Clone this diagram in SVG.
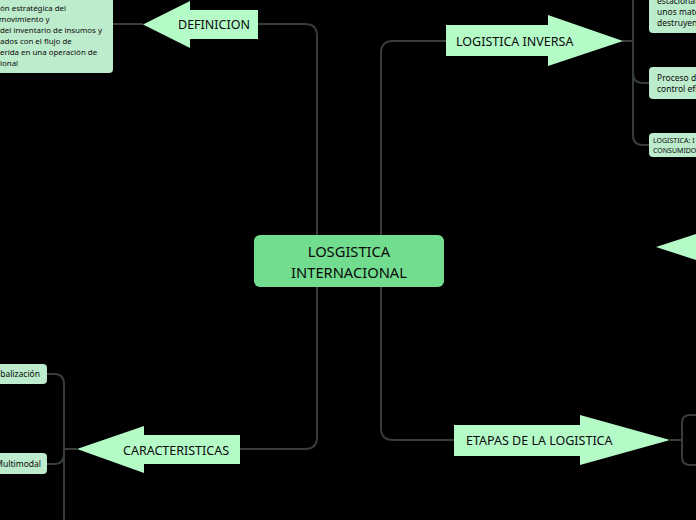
<svg xmlns="http://www.w3.org/2000/svg" width="696" height="520" viewBox="0 0 696 520">
<style>
.conn{fill:none;stroke:#373e37;stroke-width:2}
.arrow{fill:#b4fbc8}
.box{fill:#bdeccd}
.main{fill:#73dd8f}
.t{font-family:"Noto Sans","Open Sans","DejaVu Sans",sans-serif;fill:#0a0a0a}
.lbl{font-size:12.5px}
.c{font-size:14.7px;text-anchor:middle}
.s{font-size:8.5px}
.d{font-size:7.9px}
.xs{font-size:7px}
</style>
<rect width="696" height="520" fill="#000"/>
<g id="connectors">
<path class="conn" d="M258,24 H305 Q317,24 317,36 V437 Q317,449 305,449 H240"/>
<path class="conn" d="M446,41 H393 Q381,41 381,53 V428 Q381,440 393,440 H454"/>
<path class="conn" d="M143,24 H113"/>
<path class="conn" d="M622,41 H633 M633,-5 V135 Q633,145 643,145 H649 M633,73 Q633,83 643,83 H649"/>
<path class="conn" d="M77,449 H64 M47,374 H54 Q64,374 64,384 V525 M64,454 Q64,464 54,464 H47"/>
<path class="conn" d="M670,440 H682 M700,415 H690 Q682,415 682,423 V457 Q682,465 690,465 H700"/>
</g>
<g id="central">
<rect class="main" x="254" y="235" width="190" height="52" rx="6"/>
<text class="t c" x="349" y="256.5">LOSGISTICA</text>
<text class="t c" x="349" y="277.5">INTERNACIONAL</text>
</g>
<g id="definicion">
<polygon class="arrow" points="258,10 190,10 190,1 143,24.5 190,48 190,39 258,39"/>
<text class="t lbl" x="178" y="29">DEFINICION</text>
</g>
<g id="definicion-texto">
<rect class="box" x="-10" y="-10" width="123" height="83" rx="4"/>
<text class="t d" x="0" y="11">ón estratégica del</text>
<text class="t d" x="-1" y="21.5">movimiento y</text>
<text class="t d" x="0" y="32.5">del inventario de insumos y</text>
<text class="t d" x="0" y="43.5">ados con el flujo de</text>
<text class="t d" x="0" y="55">erida en una operación de</text>
<text class="t d" x="0" y="65.5">ional</text>
</g>
<g id="logistica-inversa">
<polygon class="arrow" points="446,25 548,25 548,15 623,41 548,66 548,56 446,56"/>
<text class="t lbl" x="456" y="45.5">LOGISTICA INVERSA</text>
</g>
<g id="inversa-1">
<rect class="box" x="649" y="-10" width="60" height="43" rx="4"/>
<text class="t s" x="657" y="4">estacionar</text>
<text class="t s" x="657" y="14.5">unos mate</text>
<text class="t s" x="657" y="25.5">destruyen.</text>
</g>
<g id="inversa-2">
<rect class="box" x="649" y="67" width="60" height="32" rx="4"/>
<text class="t s" x="657" y="81">Proceso d</text>
<text class="t s" x="657" y="92">control efi</text>
</g>
<g id="inversa-3">
<rect class="box" x="649" y="133" width="60" height="24" rx="4"/>
<text class="t xs" x="653" y="142.5">LOGISTICA: I</text>
<text class="t xs" x="653" y="152.5">CONSUMIDO</text>
</g>
<g id="nodo-derecha">
<polygon class="arrow" points="656,247 696,234 696,260"/>
</g>
<g id="caracteristicas">
<polygon class="arrow" points="240,435 144,435 144,426 77,449 144,473 144,464 240,464"/>
<text class="t lbl" x="123" y="454.5">CARACTERISTICAS</text>
</g>
<g id="globalizacion">
<rect class="box" x="-10" y="364" width="57" height="20" rx="4"/>
<text class="t s" x="40" y="377" text-anchor="end">obalización</text>
</g>
<g id="multimodal">
<rect class="box" x="-10" y="453" width="57" height="21" rx="4"/>
<text class="t s" x="41" y="467" text-anchor="end">Multimodal</text>
</g>
<g id="etapas">
<polygon class="arrow" points="454,425 580,425 580,415 670,440 580,465 580,456 454,456"/>
<text class="t lbl" x="466" y="444.5">ETAPAS DE LA LOGISTICA</text>
</g>
</svg>
